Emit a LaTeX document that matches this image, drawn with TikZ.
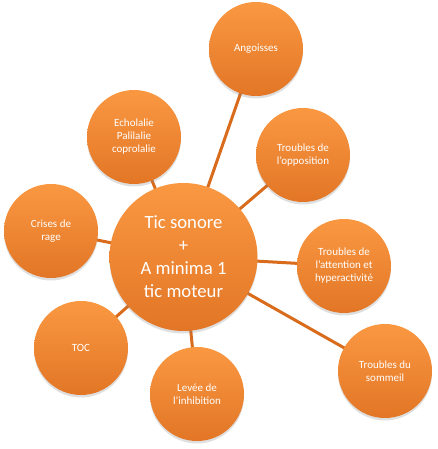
\documentclass[tikz,border=0pt]{standalone}
\usepackage{fontspec}
\setmainfont{Carlito}
\usepackage{tikz}
\usetikzlibrary{shadows,backgrounds}
\definecolor{orangetop}{RGB}{250,152,66}
\definecolor{orangebot}{RGB}{226,118,38}
\definecolor{spokecol}{RGB}{216,108,28}

\begin{document}
\begin{tikzpicture}[x=1pt, y=1pt,
    bubble/.style={circle, minimum size=94pt, inner sep=0pt, align=center,
                   top color=orangetop, bottom color=orangebot, text=white,
                   font=\fontsize{11}{13}\selectfont,
                   drop shadow={shadow xshift=0pt, shadow yshift=-2.5pt, opacity=0.25}},
    hub/.style={bubble, minimum size=148pt, font=\fontsize{18.7}{23}\selectfont},
    spoke/.style={line width=3pt, spokecol},
  ]
  \useasboundingbox (0,0) rectangle (437,449);
  \node[hub] (tic) at (183.5,192) {Tic sonore\\+\\A minima 1\\tic moteur};
  \node[bubble] (ango) at (256,400) {Angoisses};
  \node[bubble] (echo) at (134,312) {Echolalie\\Palilalie\\coprolalie};
  \node[bubble] (oppo) at (303,294) {Troubles de\\l’opposition};
  \node[bubble] (rage) at (51,218) {Crises de\\rage};
  \node[bubble] (atten) at (344,183) {Troubles de\\l’attention et\\hyperactivité};
  \node[bubble] (toc) at (81,101) {TOC};
  \node[bubble] (levee) at (197,55) {Levée de\\l’inhibition};
  \node[bubble] (somm) at (385,78) {Troubles du\\sommeil};

  \begin{scope}[on background layer]
    \draw[spoke] (tic.center) -- (ango.center);
    \draw[spoke] (tic.center) -- (echo.center);
    \draw[spoke] (tic.center) -- (oppo.center);
    \draw[spoke] (tic.center) -- (rage.center);
    \draw[spoke] (tic.center) -- (atten.center);
    \draw[spoke] (tic.center) -- (toc.center);
    \draw[spoke] (tic.center) -- (levee.center);
    \draw[spoke] (tic.center) -- (somm.center);
  \end{scope}
\end{tikzpicture}
\end{document}
